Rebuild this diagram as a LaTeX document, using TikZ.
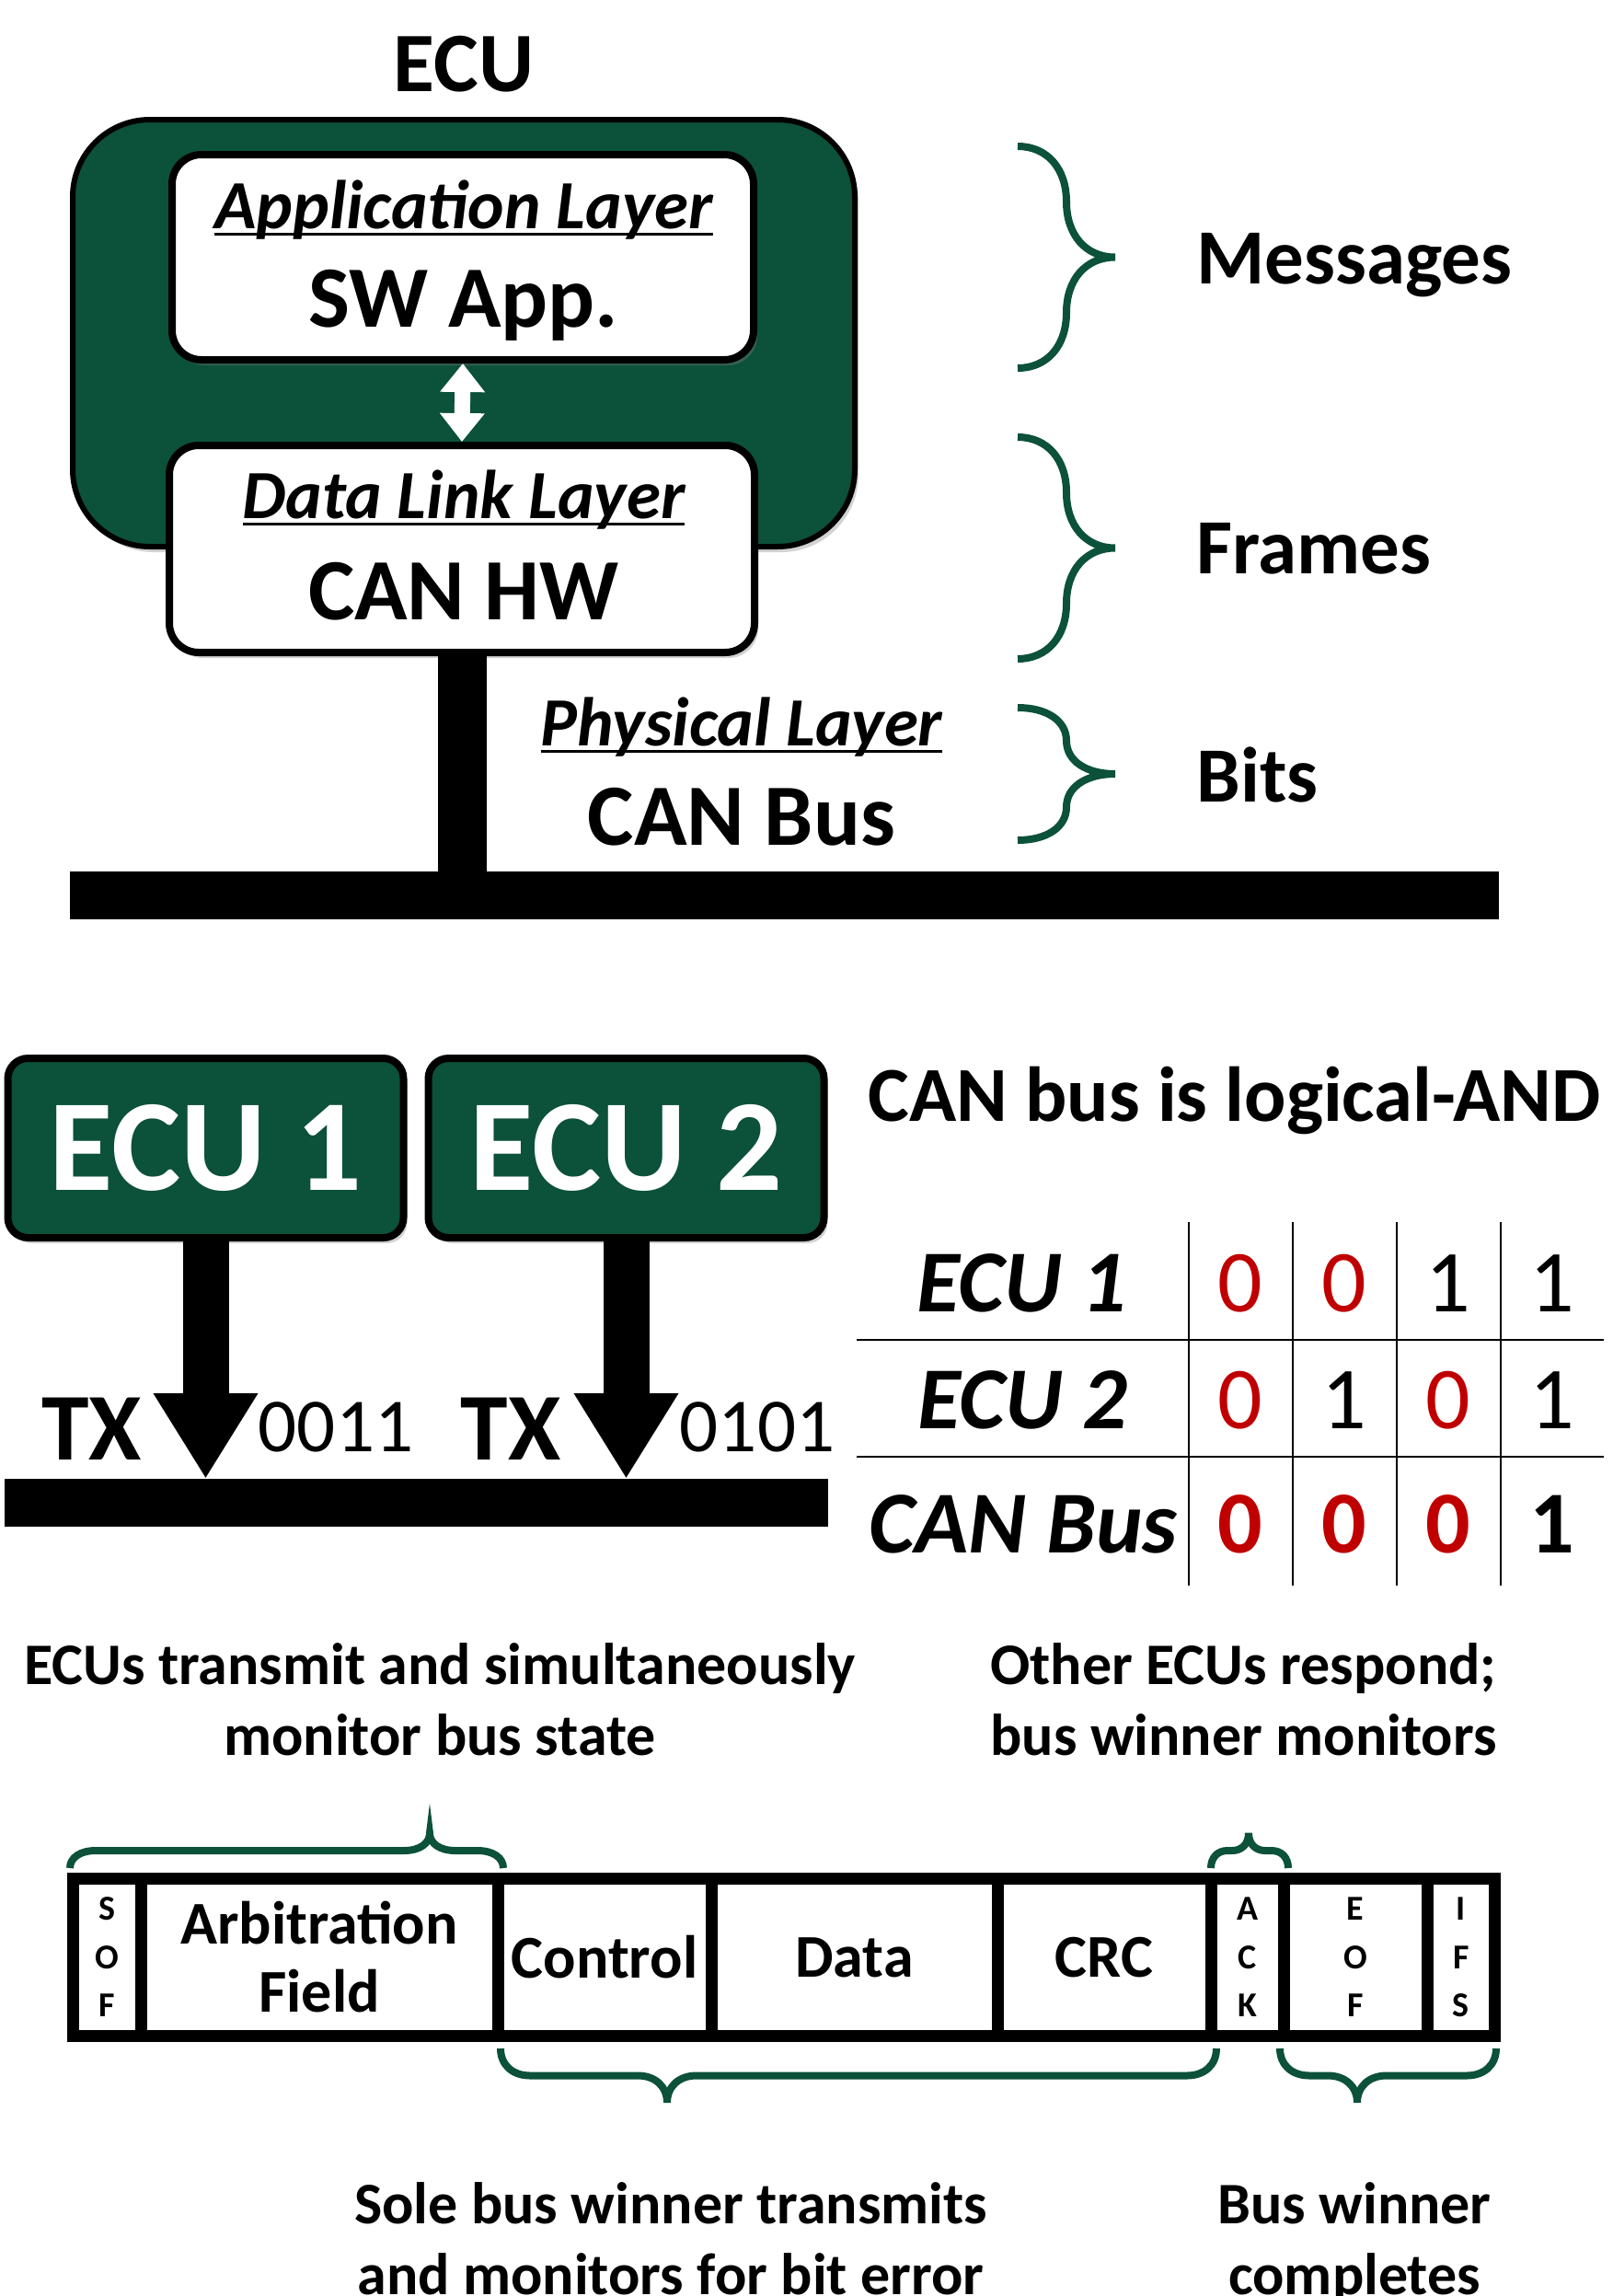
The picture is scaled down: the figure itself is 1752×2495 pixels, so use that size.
\documentclass[tikz,border=0pt]{standalone}
\usepackage{fontspec}
\setmainfont{Carlito}
\usetikzlibrary{arrows.meta, positioning, shadows}
\definecolor{EcuGreen}{HTML}{0C5139}
\definecolor{BitRed}{HTML}{C00000}
\newcommand{\fsz}[2]{\fontsize{#1pt}{#2pt}\selectfont}
\newcommand{\layername}[1]{\setbox0=\hbox{#1}\rlap{\vrule width\wd0 height -0.06em depth 0.11em}\box0}
% curly brace pointing right: x, top y, bottom y
\newcommand{\vbrace}[3]{%
  \pgfmathsetmacro{\bym}{(#2+#3)/2}%
  \pgfmathsetmacro{\byr}{(#3-#2)/4}%
  \draw[brc] (#1,#2) .. controls ({#1+32},#2) and ({#1+53},{#2+0.4*\byr}) .. ({#1+53},{#2+\byr})
    -- ({#1+53},{\bym-\byr}) .. controls ({#1+53},{\bym-0.4*\byr}) and ({#1+74},\bym) .. ({#1+106},\bym)
    .. controls ({#1+74},\bym) and ({#1+53},{\bym+0.4*\byr}) .. ({#1+53},{\bym+\byr})
    -- ({#1+53},{#3-\byr}) .. controls ({#1+53},{#3-0.4*\byr}) and ({#1+32},#3) .. (#1,#3);}
% horizontal brace: x0, x1, tip x, y of ends, depth, corner
\newcommand{\hbrace}[6]{%
  \pgfmathsetmacro{\bhm}{#4+(#5)/2}%
  \draw[brc] (#1,#4) .. controls (#1,{#4+0.3*(#5)}) and ({#1+0.4*#6},\bhm) .. ({#1+#6},\bhm)
    -- ({#3-#6},\bhm) .. controls ({#3-0.4*#6},\bhm) and (#3,{\bhm+0.2*(#5)}) .. (#3,{#4+(#5)})
    .. controls (#3,{\bhm+0.2*(#5)}) and ({#3+0.4*#6},\bhm) .. ({#3+#6},\bhm)
    -- ({#2-#6},\bhm) .. controls ({#2-0.4*#6},\bhm) and (#2,{#4+0.3*(#5)}) .. (#2,#4);}

\begin{document}
\begin{tikzpicture}[
    x=0.5pt, y=-0.5pt,
    shade/.style={drop shadow={shadow xshift=2pt, shadow yshift=-3pt, opacity=0.35}},
    ecubox/.style={draw, line width=3pt, fill=EcuGreen, rounded corners=42pt,
                   minimum width=425pt, minimum height=232pt, shade},
    layerbox/.style={draw, line width=4pt, fill=white, rounded corners=16pt, shade},
    lyrtitle/.style={anchor=base, inner sep=0pt, font=\fsz{37.5}{40}\bfseries\itshape},
    lyrmain/.style={anchor=base, inner sep=0pt, font=\fsz{47.5}{50}\bfseries},
    lvl/.style={anchor=base west, inner sep=0pt, font=\fsz{42.5}{45}\bfseries},
    brc/.style={EcuGreen, line width=4pt},
    busbar/.style={fill=black, minimum height=26pt, inner sep=0pt, outer sep=0pt},
    stem/.style={line width=26.5pt},
    updown/.style={{Triangle[length=15.5pt,width=23.5pt]}-{Triangle[length=15.5pt,width=23.5pt]},
                   line width=8.5pt, white},
    ecunode/.style={draw, line width=4pt, fill=EcuGreen, rounded corners=11pt, text=white,
                    minimum width=215pt, minimum height=97.5pt, font=\fsz{71}{74}\bfseries, shade},
    txarrow/.style={line width=25pt, -{Triangle[length=46.5pt,width=53.5pt]}},
    txlbl/.style={anchor=base, inner sep=0pt, font=\fsz{52}{55}\bfseries},
    bitlbl/.style={anchor=base, inner sep=0pt, font=\fsz{41.5}{44}},
    rowlbl/.style={anchor=base, inner sep=0pt, font=\fsz{48}{50}\bfseries\itshape},
    val/.style={anchor=base, inner sep=0pt, font=\fsz{48}{50}},
    grid/.style={line width=1.3pt},
    note/.style={anchor=base, inner sep=0pt, font=\fsz{32}{38.5}\bfseries},
    field/.style={draw, line width=6.5pt, fill=white, minimum height=85.5pt, inner sep=0pt,
                  outer sep=0pt, align=center, font=\fsz{33}{37}\bfseries},
    letters/.style={font=\fsz{19}{26.25}\bfseries}
  ]
    \useasboundingbox (0,0) rectangle (1752,2495);

    % ---- ECU layers ----
    \node[font=\fsz{46}{50}\bfseries, anchor=base, inner sep=0pt] (ecutitle) at (504,99) {ECU};
    \node[ecubox] (ecu) at (504,362) {};
    \node[layerbox, minimum width=316pt, minimum height=111.5pt] (app) at (503,279.5) {};
    \node[layerbox, minimum width=318pt, minimum height=112.5pt] (link) at (502,596.5) {};
    \draw[updown] (app.south) -- (link.north);

    \node[lyrtitle] (applbl) at (504,248) {\layername{Application Layer}};
    \node[lyrmain] (appsw) at (504,355) {SW App.};
    \node[lyrtitle] (linklbl) at (504,563) {\layername{Data Link Layer}};
    \node[lyrmain] (linkhw) at (504,673) {CAN HW};

    \node[busbar, minimum width=776.5pt] (bus) at (852.5,973) {};
    \draw[stem] (link.south) -- (link.south |- bus.north);
    \node[lyrtitle] (phylbl) at (806,810) {\layername{Physical Layer}};
    \node[lyrmain] (phybus) at (806,918) {CAN Bus};

    \vbrace{1106}{159}{400}
    \vbrace{1106}{475}{716}
    \vbrace{1106}{769}{913}
    \node[lvl] (msg) at (1300,308) {Messages};
    \node[lvl] (frm) at (1300,623) {Frames};
    \node[lvl] (bts) at (1300,871) {Bits};

    % ---- arbitration ----
    \node[ecunode] (ecu1) at (223.5,1247.5) {ECU 1};
    \node[ecunode] (ecu2) at (680.5,1247.5) {ECU 2};
    \node[busbar, minimum width=447.5pt] (bus2) at (452.5,1633) {};
    \draw[txarrow] (ecu1.south) -- (ecu1.south |- bus2.north);
    \draw[txarrow] (ecu2.south) -- (ecu2.south |- bus2.north);
    \node[txlbl] (tx1) at (99.5,1586) {TX};
    \node[bitlbl] (bits1) at (365,1577) {0011};
    \node[txlbl] (tx2) at (555,1586) {TX};
    \node[bitlbl] (bits2) at (823,1577) {0101};

    \node[anchor=base west, inner sep=0pt, font=\fsz{42.3}{44}\bfseries] (andlbl) at (943,1218) {CAN bus is logical-AND};

    \draw[grid] (1292,1328) -- (1292,1723);
    \draw[grid] (1405,1328) -- (1405,1723);
    \draw[grid] (1518,1328) -- (1518,1723);
    \draw[grid] (1631,1328) -- (1631,1723);
    \draw[grid] (931,1456) -- (1743,1456);
    \draw[grid] (931,1583) -- (1743,1583);

    \node[rowlbl] (row1) at (1110,1425) {ECU 1};
    \node[rowlbl] (row2) at (1111,1552) {ECU 2};
    \node[rowlbl] (row3) at (1112,1687) {CAN Bus};
    \node[val, BitRed] (a1) at (1348,1425) {0};
    \node[val, BitRed] (a2) at (1461,1425) {0};
    \node[val] (a3) at (1574,1425) {1};
    \node[val] (a4) at (1687,1425) {1};
    \node[val, BitRed] (b1) at (1348,1552) {0};
    \node[val] (b2) at (1461,1552) {1};
    \node[val, BitRed] (b3) at (1574,1552) {0};
    \node[val] (b4) at (1687,1552) {1};
    \node[val, BitRed, font=\fsz{48}{50}\bfseries] (c1) at (1348,1687) {0};
    \node[val, BitRed, font=\fsz{48}{50}\bfseries] (c2) at (1461,1687) {0};
    \node[val, BitRed, font=\fsz{48}{50}\bfseries] (c3) at (1574,1687) {0};
    \node[val, font=\fsz{48}{50}\bfseries] (c4) at (1687,1687) {1};

    \node[note, align=center] (txnote) at (478,1907) {ECUs transmit and simultaneously\\monitor bus state};
    \node[note, align=left, anchor=base west] (acknote) at (1076,1907) {Other ECUs respond;\\bus winner monitors};

    % ---- frame ----
    \node[field, letters, minimum width=36.75pt] (sof) at (116.25,2127) {S\\O\\F};
    \node[field, minimum width=194pt, right=0pt of sof] (arb) {Arbitration\\Field};
    \node[field, minimum width=116pt, right=0pt of arb] (ctrl) {Control};
    \node[field, minimum width=155.5pt, right=0pt of ctrl] (data) {Data};
    \node[field, minimum width=116pt, right=0pt of data] (crc) {CRC};
    \node[field, letters, minimum width=39.5pt, right=0pt of crc] (ack) {A\\C\\K};
    \node[field, letters, minimum width=78pt, right=0pt of ack] (eof) {E\\O\\F};
    \node[field, letters, minimum width=36.75pt, right=0pt of eof] (ifs) {I\\F\\S};

    \hbrace{76}{547}{467}{2030}{-38}{28}
    \hbrace{1316}{1400}{1357}{2030}{-38}{18}
    \hbrace{544}{1322}{725}{2226}{59}{32}
    \hbrace{1391}{1626}{1475}{2226}{59}{32}

    \node[note, align=center] (winnote) at (729,2493) {Sole bus winner transmits\\and monitors for bit error};
    \node[note, align=center] (endnote) at (1472,2493) {Bus winner\\completes};
  \end{tikzpicture}
\end{document}
